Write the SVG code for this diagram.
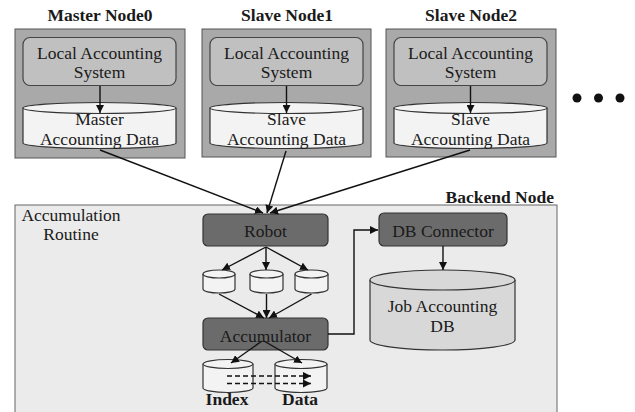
<svg xmlns="http://www.w3.org/2000/svg" width="635" height="412" viewBox="0 0 635 412" font-family="'Liberation Serif', 'DejaVu Serif', 'Times New Roman', serif">
<style>
text{font-family:'Liberation Serif','DejaVu Serif','Times New Roman',serif;font-size:17.5px;fill:#1a1a1a;text-anchor:middle}
.b{font-weight:bold}
.node{fill:#a9a9a9;stroke:#555;stroke-width:1}
.inner{fill:#c0c0c0;stroke:#444;stroke-width:1.2}
.cyl{fill:#f3f3f3;stroke:#333;stroke-width:1.2}
.dark{fill:#6b6b6b;stroke:#333;stroke-width:1.2}
.job{fill:#d8d8d8;stroke:#333;stroke-width:1.2}
.ln{stroke:#111;stroke-width:1.4;fill:none}
.dash{stroke:#111;stroke-width:1.6;fill:none;stroke-dasharray:5 3}
</style>
<defs>
<marker id="ah" viewBox="0 0 10 10" refX="10" refY="5" markerWidth="8" markerHeight="8" markerUnits="userSpaceOnUse" orient="auto">
<path d="M0,0 L10,5 L0,10 z" fill="#111"/>
</marker>
</defs>
<rect width="635" height="412" fill="#ffffff"/>

<g id="master-node0">
<text class="b" x="100" y="21">Master Node0</text>
<rect class="node" x="15" y="29" width="170" height="129"/>
<rect class="inner" x="23" y="37.5" width="153" height="48" rx="7"/>
<text x="99.5" y="58.5">Local Accounting</text>
<text x="99.5" y="77.5">System</text>
<path class="cyl" d="M23,108 V143 A76.5,5.5 0 0 0 176,143 V108"/>
<ellipse class="cyl" cx="99.5" cy="108" rx="76.5" ry="5.5"/>
<text x="99.5" y="125">Master</text>
<text x="99.5" y="145">Accounting Data</text>
<line class="ln" x1="100" y1="86" x2="100" y2="113" marker-end="url(#ah)"/>
</g>

<g id="slave-node1">
<text class="b" x="287" y="21">Slave Node1</text>
<rect class="node" x="202" y="29" width="169" height="128"/>
<rect class="inner" x="210" y="37.5" width="153" height="48" rx="7"/>
<text x="286.5" y="58.5">Local Accounting</text>
<text x="286.5" y="77.5">System</text>
<path class="cyl" d="M210,108 V143 A76.5,5.5 0 0 0 363,143 V108"/>
<ellipse class="cyl" cx="286.5" cy="108" rx="76.5" ry="5.5"/>
<text x="286.5" y="125">Slave</text>
<text x="286.5" y="145">Accounting Data</text>
<line class="ln" x1="286.5" y1="86" x2="286.5" y2="113" marker-end="url(#ah)"/>
</g>

<g id="slave-node2">
<text class="b" x="471" y="21">Slave Node2</text>
<rect class="node" x="386" y="29" width="170" height="128"/>
<rect class="inner" x="394" y="37.5" width="153" height="48" rx="7"/>
<text x="470.5" y="58.5">Local Accounting</text>
<text x="470.5" y="77.5">System</text>
<path class="cyl" d="M394,108 V143 A76.5,5.5 0 0 0 547,143 V108"/>
<ellipse class="cyl" cx="470.5" cy="108" rx="76.5" ry="5.5"/>
<text x="470.5" y="125">Slave</text>
<text x="470.5" y="145">Accounting Data</text>
<line class="ln" x1="470.5" y1="86" x2="470.5" y2="113" marker-end="url(#ah)"/>
</g>

<g id="ellipsis">
<circle cx="577" cy="98" r="4.5" fill="#111"/>
<circle cx="598.5" cy="98" r="4.5" fill="#111"/>
<circle cx="620" cy="98" r="4.5" fill="#111"/>
</g>

<g id="backend-node">
<text class="b" x="554" y="203" style="text-anchor:end">Backend Node</text>
<rect x="15" y="205" width="542" height="215" fill="#ebebeb" stroke="#666" stroke-width="1"/>
<text x="71" y="221">Accumulation</text>
<text x="71" y="240">Routine</text>
</g>

<g id="robot">
<rect class="dark" x="203" y="214" width="125" height="32" rx="5"/>
<text x="265.5" y="237">Robot</text>
</g>

<g id="buffer1">
<path class="cyl" d="M203,274 V289 A16,4 0 0 0 235,289 V274"/>
<ellipse class="cyl" cx="219" cy="274" rx="16" ry="4"/>
</g>
<g id="buffer2">
<path class="cyl" d="M250,274 V289 A16.5,4 0 0 0 283,289 V274"/>
<ellipse class="cyl" cx="266.5" cy="274" rx="16.5" ry="4"/>
</g>
<g id="buffer3">
<path class="cyl" d="M295,274 V289 A16.5,4 0 0 0 328,289 V274"/>
<ellipse class="cyl" cx="311.5" cy="274" rx="16.5" ry="4"/>
</g>

<g id="accumulator">
<rect class="dark" x="203" y="318" width="125" height="32" rx="5"/>
<text x="265.5" y="342">Accumulator</text>
</g>

<g id="index">
<path class="cyl" d="M203,364 V388 A25,4.5 0 0 0 253,388 V364"/>
<ellipse class="cyl" cx="228" cy="364" rx="25" ry="4.5"/>
<text class="b" x="227" y="405">Index</text>
</g>
<g id="data">
<path class="cyl" d="M275,364 V388 A26,4.5 0 0 0 327,388 V364"/>
<ellipse class="cyl" cx="301" cy="364" rx="26" ry="4.5"/>
<text class="b" x="300" y="405">Data</text>
</g>

<g id="db-connector">
<rect class="dark" x="379" y="213" width="128" height="33" rx="5"/>
<text x="443" y="237">DB Connector</text>
</g>

<g id="job-accounting-db">
<path class="job" d="M370,280 V340 A72.5,10 0 0 0 515,340 V280"/>
<ellipse class="job" cx="442.5" cy="280" rx="72.5" ry="10"/>
<text x="442.5" y="312">Job Accounting</text>
<text x="442.5" y="332">DB</text>
</g>

<g id="connectors">
<line class="ln" x1="100" y1="150" x2="263" y2="213" marker-end="url(#ah)"/>
<line class="ln" x1="286" y1="151" x2="267" y2="213" marker-end="url(#ah)"/>
<line class="ln" x1="470" y1="150" x2="270" y2="213" marker-end="url(#ah)"/>
<line class="ln" x1="266" y1="247" x2="222" y2="270" marker-end="url(#ah)"/>
<line class="ln" x1="266" y1="247" x2="266" y2="270" marker-end="url(#ah)"/>
<line class="ln" x1="266" y1="247" x2="308" y2="270" marker-end="url(#ah)"/>
<line class="ln" x1="219" y1="294" x2="264" y2="318" marker-end="url(#ah)"/>
<line class="ln" x1="266.5" y1="294" x2="266.5" y2="318" marker-end="url(#ah)"/>
<line class="ln" x1="311.5" y1="294" x2="269" y2="318" marker-end="url(#ah)"/>
<line class="ln" x1="262" y1="341" x2="231" y2="363" marker-end="url(#ah)"/>
<line class="ln" x1="264" y1="341" x2="302" y2="363" marker-end="url(#ah)"/>
<line class="dash" x1="227" y1="376" x2="311" y2="376" marker-end="url(#ah)"/>
<line class="dash" x1="227" y1="383.5" x2="311" y2="383.5" marker-end="url(#ah)"/>
<polyline class="ln" points="328,334 354,334 354,230 378,230" marker-end="url(#ah)"/>
<line class="ln" x1="443" y1="246" x2="443" y2="270" marker-end="url(#ah)"/>
</g>
</svg>
